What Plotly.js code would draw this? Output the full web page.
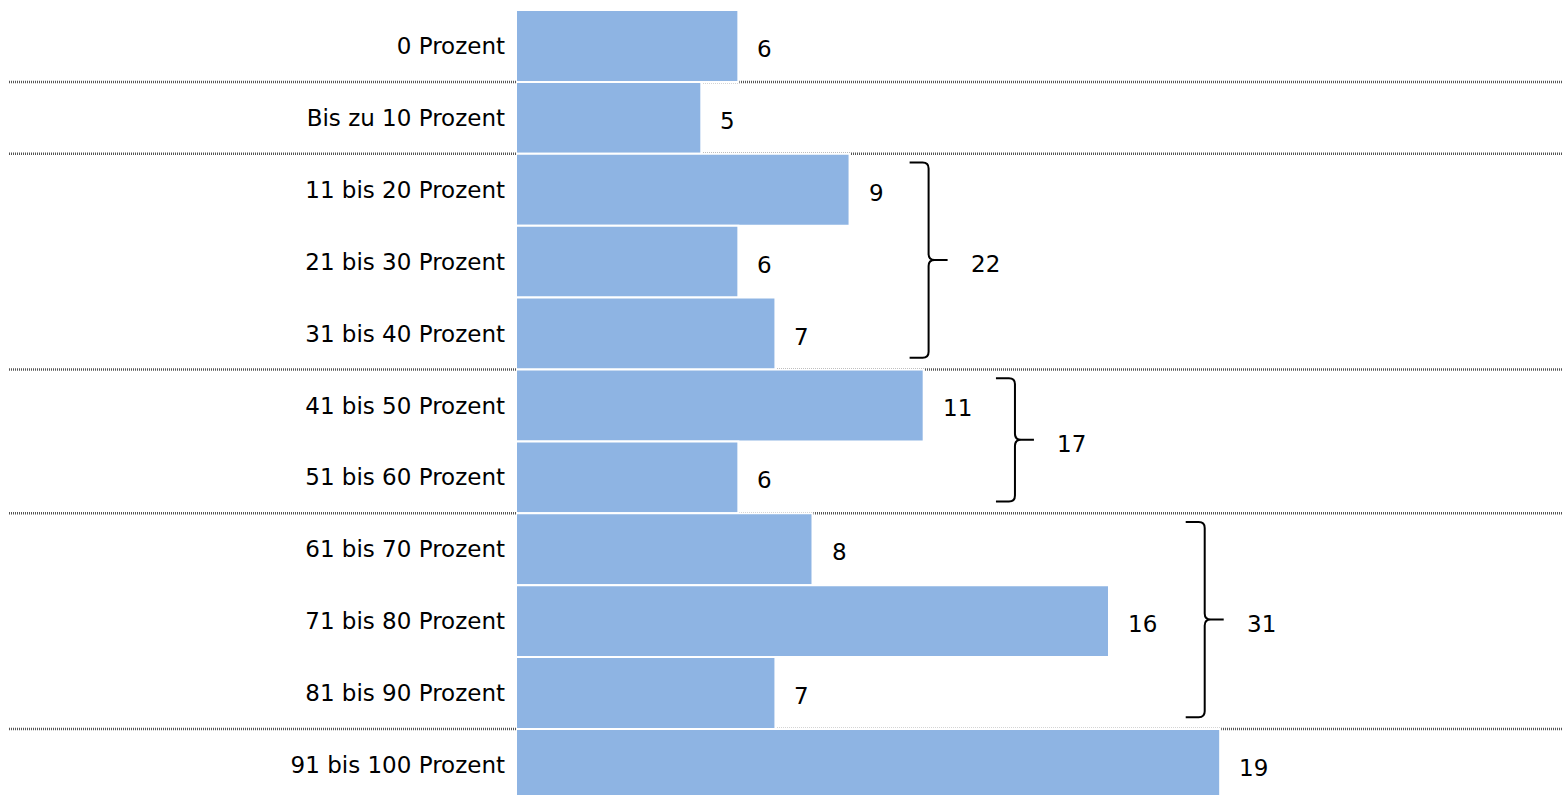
<!DOCTYPE html>
<html>
<head>
<meta charset="utf-8">
<script src="https://cdn.plot.ly/plotly-3.0.1.min.js"></script>
<style>html,body{margin:0;padding:0;background:#fff;}#chart{width:1563px;height:795px;}</style>
</head>
<body>
<div id="chart"></div>
<script>
// ---- data ----
const categories = ["0 Prozent","Bis zu 10 Prozent","11 bis 20 Prozent","21 bis 30 Prozent","31 bis 40 Prozent","41 bis 50 Prozent","51 bis 60 Prozent","61 bis 70 Prozent","71 bis 80 Prozent","81 bis 90 Prozent","91 bis 100 Prozent"];
const values = [6,5,9,6,7,11,6,8,16,7,19];
const groupFirst = [2,5,7];
const groupLast = [4,6,9];
const groupTotals = [22,17,31];
const separatorsAfter = [0,1,4,6,9];

// ---- layout / style constants ----
const W = 1563, H = 795, ML = 516, MT = 10;
const xMax = 28.25;
const yTop = -0.5, yBot = 10.418;
const ux = (W - ML) / xMax;          // px per x unit
const uy = (H - MT) / (yBot - yTop); // px per row
const braceGap = [1.62, 1.95, 2.07]; // gap (x units) between group max bar and brace
const font = {family: "DejaVu Sans, Liberation Sans, Arial, sans-serif", size: 23, color: "#000"};

const idx = categories.map((c, i) => i);

const trace = {
  type: "bar",
  orientation: "h",
  x: values,
  y: idx,
  marker: {color: "#8EB4E3", line: {color: "#ffffff", width: 2}},
  hoverinfo: "skip"
};

const shapes = [];
const annotations = [];

// separators
separatorsAfter.forEach(i => {
  shapes.push({
    type: "line", layer: "below", xref: "paper", yref: "y",
    x0: (9 - ML) / (W - ML), x1: 1, y0: i + 0.5, y1: i + 0.5,
    line: {color: "#555555", width: 2.5, dash: "1px,1px"}
  });
});

// value labels
values.forEach((v, i) => {
  annotations.push({
    x: v, y: i, xref: "x", yref: "y", text: String(v), showarrow: false,
    xanchor: "left", xshift: 17, yshift: -3, font: font
  });
});

// braces
groupFirst.forEach((g0, k) => {
  const g1 = groupLast[k];
  const gmax = Math.max(...values.slice(g0, g1 + 1));
  const x0 = gmax + braceGap[k];
  const xv = x0 + 19 / ux;
  const xt = xv + 19 / ux;
  const rx = 6 / ux, ry = 6 / uy;
  const yT = g0 - 0.5 + 0.12;
  const yB = g1 + 0.5 - 0.165;
  const yM = (yT + yB) / 2;
  const p = (x, y) => x.toFixed(4) + "," + y.toFixed(4);
  const path =
    "M" + p(x0, yT) + " L" + p(xv - rx, yT) + " Q" + p(xv, yT) + " " + p(xv, yT + ry) +
    " L" + p(xv, yM - ry) + " Q" + p(xv, yM) + " " + p(xv + rx, yM) + " L" + p(xt, yM) +
    " M" + p(xv + rx, yM) + " Q" + p(xv, yM) + " " + p(xv, yM + ry) +
    " L" + p(xv, yB - ry) + " Q" + p(xv, yB) + " " + p(xv - rx, yB) + " L" + p(x0, yB);
  shapes.push({type: "path", xref: "x", yref: "y", path: path, line: {color: "#000", width: 2}});
  annotations.push({
    x: xt, y: yM, xref: "x", yref: "y", text: String(groupTotals[k]), showarrow: false,
    xanchor: "left", xshift: 21, yshift: -4, font: font
  });
});

const layout = {
  width: W, height: H,
  margin: {l: ML, r: 0, t: MT, b: 0, pad: 0},
  paper_bgcolor: "#ffffff", plot_bgcolor: "#ffffff",
  showlegend: false,
  bargap: 0,
  font: font,
  xaxis: {range: [0, xMax], visible: false, fixedrange: true},
  yaxis: {
    range: [yBot, yTop], tickmode: "array", tickvals: idx, ticktext: categories,
    showgrid: false, zeroline: false, showline: false, ticks: "",
    ticklabelstandoff: 10, tickfont: font, fixedrange: true
  },
  shapes: shapes,
  annotations: annotations
};

Plotly.newPlot("chart", [trace], layout, {displayModeBar: false, staticPlot: true});
</script>
</body>
</html>
